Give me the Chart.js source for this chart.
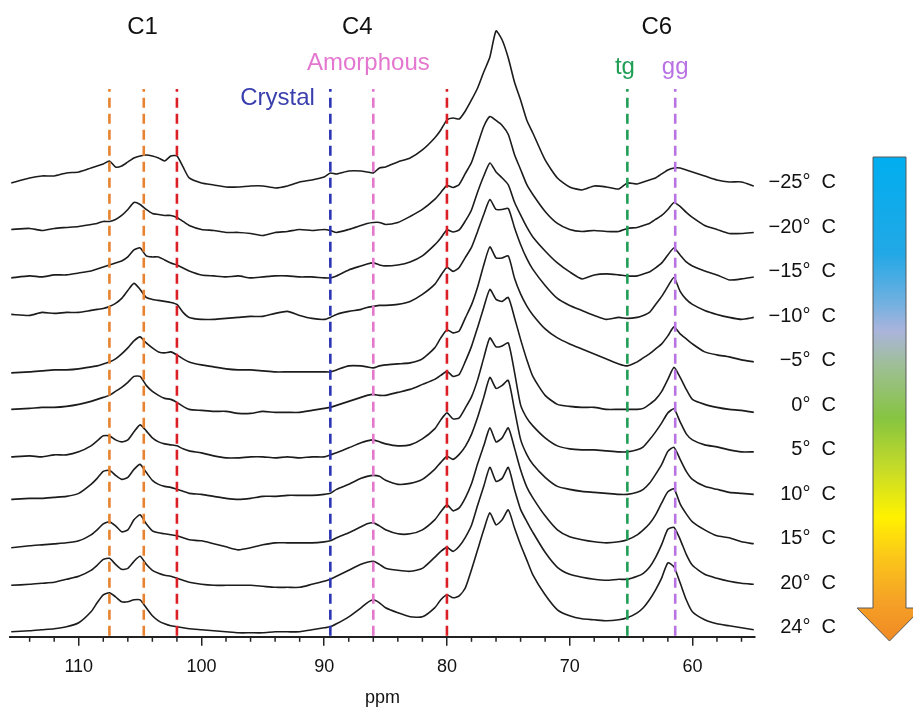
<!DOCTYPE html>
<html>
<head>
<meta charset="utf-8">
<script src="https://cdn.jsdelivr.net/npm/chart.js@4.4.1/dist/chart.umd.min.js"></script>
<style>
  html, body { margin: 0; padding: 0; background: #fff; }
  #wrap { width: 913px; height: 709px; }
</style>
</head>
<body>
<div id="wrap"><canvas id="nmr" width="913" height="709"></canvas></div>
<script>
// chemical shift grid (ppm) shared by all spectra
const ppm = [115.5,114,113,112,111,110,109,108.5,108,107.5,107,106.5,106,105.5,105,104.5,104,103.5,103,102.5,
  102,101.5,101,100,99,98,97,96,95,94,93,92,91,90,89.5,89,88,87,86.5,86,
  85.5,85,84,83,82,81,80.5,80,79.5,79,78.5,78,77.5,77,76.5,76,75.5,75,74.5,74,
  73.5,73,72,71,70,69,68,67,66,65.3,64.5,64,63.5,63,62.5,62,61.5,61,60.5,60,
  59,58,57,56,55];

// intensities (arbitrary units, baseline = 0)
const specM25 = [2,7,9,9,12,13,17,19,21,24, 18,19,23,27,29,30,29,27,24,29, 29,18,7,2,0,-2,-2,-1,-1,-3,
  -1,3,5,8,12,11,14,14,13,12, 17,18,23,27,35,47,55,65,67,66, 74,85,97,113,128,154,145,127,103,85,
  65,52,25,7,-2,-5,-1,-2,-4,2, 1,3,5,7,11,15,17,17,15,13, 9,5,3,3,-1];
const specM20 = [0,1,-1,1,2,3,5,6,8,8, 10,14,20,27,25,20,16,15,14,14, 12,8,4,0,-1,-3,-3,-4,-6,-3,
  -2,0,-1,0,-1,-3,0,4,6,7, 7,5,7,13,20,30,37,44,42,45, 56,67,85,103,113,109,104,95,75,60,
  45,35,18,6,0,-2,-1,-2,-2,1, 2,4,6,10,14,20,27,23,17,12, 4,0,-4,-4,-3];
const specM15 = [-4,-2,-3,-1,-1,1,3,5,7,9, 11,13,17,24,26,18,17,17,14,11, 9,6,3,-1,-2,-3,-2,-4,-3,-2,
  -2,-3,-3,-4,-4,-2,4,8,10,11, 9,8,9,12,18,29,36,44,42,44, 53,64,82,98,111,102,96,89,72,59,
  47,37,23,11,2,-5,-1,0,-1,-2, -2,0,2,6,11,19,26,19,12,8, 3,-1,-6,-5,-3];
const specM10 = [4,3,6,5,6,6,8,9,10,12, 15,20,28,35,29,21,19,18,17,16, 14,6,1,-1,-1,0,1,2,2,5,
  7,3,0,-1,1,4,7,9,11,12, 13,13,14,17,24,34,43,51,47,51, 61,71,87,104,119,109,109,110,91,74,
  60,49,33,20,13,8,3,-1,1,0, 1,3,6,14,22,32,41,27,19,14, 8,4,1,-1,1];
const specM5 = [-10,-9,-8,-7,-7,-6,-4,-3,-1,1, 4,9,15,22,26,20,15,11,10,11, 8,4,1,-2,-4,-6,-7,-7,-8,-9,
  -9,-9,-9,-9,-9,-7,-3,-3,-4,-5, -3,-2,-1,0,4,15,25,33,30,32, 45,58,76,98,116,105,105,107,85,69,
  57,48,34,25,19,14,9,4,-1,-3, 1,5,9,14,19,27,36,29,24,19, 11,8,6,3,1];
const spec0 = [-2,-1,0,0,1,3,6,8,10,12, 16,20,25,31,31,22,16,12,9,8, 5,1,-2,-3,-4,-4,-6,-6,-4,-5,
  -5,-5,-3,-1,0,2,6,10,12,13, 12,12,15,18,23,28,32,36,31,33, 46,61,80,100,118,108,106,110,90,68,
  48,31,12,3,1,0,0,-2,-2,-2, -2,-1,3,8,16,28,40,30,18,8, 3,0,-2,-3,-5];
const spec5 = [-5,-4,-5,-3,-3,0,6,11,16,16, 12,10,12,20,27,21,14,10,8,7, 6,3,1,-1,-4,-6,-6,-5,-5,-6,
  -5,-6,-5,-5,-3,-1,4,9,11,12, 10,8,6,7,13,23,32,39,33,34, 44,55,72,94,114,105,106,109,80,47,
  34,26,14,6,3,2,2,1,0,0, 2,5,12,20,29,39,43,30,18,12, 7,5,2,0,0];
const spec10 = [-3,-2,-2,-1,0,3,12,18,25,26, 21,17,19,27,32,24,16,12,10,9, 7,5,3,2,0,-2,-3,-2,0,0,
  1,1,1,2,3,7,12,18,20,21, 20,16,12,13,17,27,34,40,37,42, 50,62,79,99,119,108,111,116,87,57,
  42,32,19,10,7,5,4,3,2,2, 4,7,13,22,32,45,49,37,25,17, 10,7,4,3,2];
const spec15 = [-7,-5,-4,-3,-2,0,6,11,17,19, 15,9,11,21,26,17,10,8,7,6, 5,3,1,0,-3,-6,-9,-7,-4,-2,
  -2,-2,-2,-1,0,3,8,14,17,18, 15,11,7,7,11,21,29,36,30,33, 43,57,77,95,113,99,103,113,93,71,
  54,43,25,11,4,1,-1,-2,-1,1, 6,11,17,26,38,49,52,37,27,19, 11,5,3,-1,-3];
const spec20 = [0,1,2,3,6,9,15,20,26,27, 21,16,17,24,29,21,15,12,10,9, 7,5,3,1,0,0,0,0,-1,-2,
  -2,-2,1,4,6,9,15,21,23,24, 21,17,15,14,17,28,34,38,34,39, 48,60,80,99,118,104,107,118,96,76,
  64,53,33,18,11,8,6,5,6,6, 9,12,18,28,41,56,58,46,31,20, 11,7,4,2,1];
const spec24 = [-2,-1,0,1,3,7,18,27,35,37, 33,28,28,30,30,22,14,9,6,4, 3,2,1,0,-1,-2,-3,-3,-3,-2,
  -2,-2,0,2,3,6,13,22,27,30, 27,22,17,13,13,22,30,35,32,34, 42,60,80,100,117,105,110,120,102,85,
  70,55,35,20,14,11,10,9,10,12, 17,22,30,40,52,67,63,47,30,18, 10,6,4,2,0];

const temps = ['\u221225', '\u221220', '\u221215', '\u221210', '\u22125', '0', '5', '10', '15', '20', '24'];
const spectra = [specM25, specM20, specM15, specM10, specM5, spec0, spec5, spec10, spec15, spec20, spec24];

// reference lines
const markerPpm = [107.5, 104.7, 102.0, 89.5, 86.0, 80.0, 65.3, 61.4];
const markerColor = ['#e8822f', '#e8822f', '#dc1f26', '#2c34b4', '#e477cf', '#dc1f26', '#1f9e55', '#b872e4'];

// text labels
const groupNames = ['C1', 'C4', 'C6'];
const groupPpm = [104.8, 87.3, 62.9];
const formNames = ['Crystal', 'Amorphous', 'tg', 'gg'];
const formPpm = [93.8, 86.4, 65.5, 61.4];
const formColor = ['#3a3fae', '#e477cf', '#1f9e55', '#b872e4'];

const majorTicks = [110, 100, 90, 80, 70, 60];

const STEP = 44.5;
const FONT = '"Liberation Sans", Arial, sans-serif';
Chart.defaults.font.family = FONT;

function offsetOf(i) { return (spectra.length - 1 - i) * STEP; }

const datasets = [];
markerPpm.forEach((p, k) => {
  datasets.push({
    data: [{x: p, y: -6}, {x: p, y: 541}],
    borderColor: markerColor[k],
    borderWidth: 2.6,
    borderDash: [10, 6],
    pointRadius: 0,
    order: 0
  });
});
spectra.forEach((s, i) => {
  datasets.push({
    data: ppm.map((p, j) => ({x: p, y: offsetOf(i) + s[j]})),
    borderColor: '#1c1c1c',
    borderWidth: 1.6,
    pointRadius: 0,
    tension: 0.2,
    order: 1
  });
});

const decor = {
  id: 'decor',
  afterDraw(chart) {
    const {ctx, scales: {x, y}} = chart;
    ctx.save();
    // minor ticks every 2 ppm
    ctx.strokeStyle = '#222';
    ctx.lineWidth = 1.5;
    for (let v = 56; v <= 114; v += 2) {
      if (v % 10 === 0) continue;
      const px = x.getPixelForValue(v);
      ctx.beginPath();
      ctx.moveTo(px, y.bottom);
      ctx.lineTo(px, y.bottom + 5);
      ctx.stroke();
    }
    // temperature labels
    ctx.fillStyle = '#111';
    ctx.font = '20px ' + FONT;
    ctx.textAlign = 'right';
    ctx.textBaseline = 'middle';
    temps.forEach((t, i) => {
      ctx.fillText(t + '\u00b0  C', 836, y.getPixelForValue(offsetOf(i)) - 2);
    });
    // group headers
    ctx.textAlign = 'center';
    ctx.font = '24px ' + FONT;
    groupNames.forEach((g, k) => ctx.fillText(g, x.getPixelForValue(groupPpm[k]), 27));
    const formY = [98, 63, 67, 67];
    formNames.forEach((f, k) => {
      ctx.fillStyle = formColor[k];
      ctx.fillText(f, x.getPixelForValue(formPpm[k]), formY[k]);
    });
    // temperature arrow
    const grad = ctx.createLinearGradient(0, 157, 0, 640);
    grad.addColorStop(0, '#00aeef');
    grad.addColorStop(0.2, '#22a8e6');
    grad.addColorStop(0.3, '#6fb0e0');
    grad.addColorStop(0.36, '#aab4dc');
    grad.addColorStop(0.43, '#9fbf98');
    grad.addColorStop(0.54, '#86c441');
    grad.addColorStop(0.65, '#c8dc26');
    grad.addColorStop(0.745, '#fff200');
    grad.addColorStop(0.83, '#fbc61a');
    grad.addColorStop(0.92, '#f5a126');
    grad.addColorStop(1, '#f08a24');
    ctx.beginPath();
    ctx.moveTo(873, 157);
    ctx.lineTo(906, 157);
    ctx.lineTo(906, 608);
    ctx.lineTo(922, 608);
    ctx.lineTo(889.5, 641);
    ctx.lineTo(857, 608);
    ctx.lineTo(873, 608);
    ctx.closePath();
    ctx.fillStyle = grad;
    ctx.fill();
    ctx.strokeStyle = '#5a5a5a';
    ctx.lineWidth = 1;
    ctx.stroke();
    ctx.restore();
  }
};

new Chart(document.getElementById('nmr'), {
  type: 'line',
  data: { datasets },
  options: {
    responsive: false,
    animation: false,
    devicePixelRatio: 1,
    layout: { padding: { left: 10, right: 158, top: 20, bottom: 0 } },
    plugins: { legend: { display: false }, tooltip: { enabled: false } },
    scales: {
      x: {
        type: 'linear',
        reverse: true,
        min: 54.9,
        max: 115.6,
        afterBuildTicks: s => { s.ticks = majorTicks.map(v => ({ value: v })); },
        ticks: { font: { size: 18 }, color: '#111', padding: 10, maxRotation: 0, autoSkip: false },
        grid: { drawOnChartArea: false, tickLength: 9, color: '#222', lineWidth: 1.5 },
        border: { display: true, color: '#222', width: 2 },
        title: { display: true, text: 'ppm', font: { size: 18 }, color: '#111', padding: { top: 0, bottom: 0 } }
      },
      y: { display: false, min: -7, max: 610 }
    }
  },
  plugins: [decor]
});
</script>
</body>
</html>
